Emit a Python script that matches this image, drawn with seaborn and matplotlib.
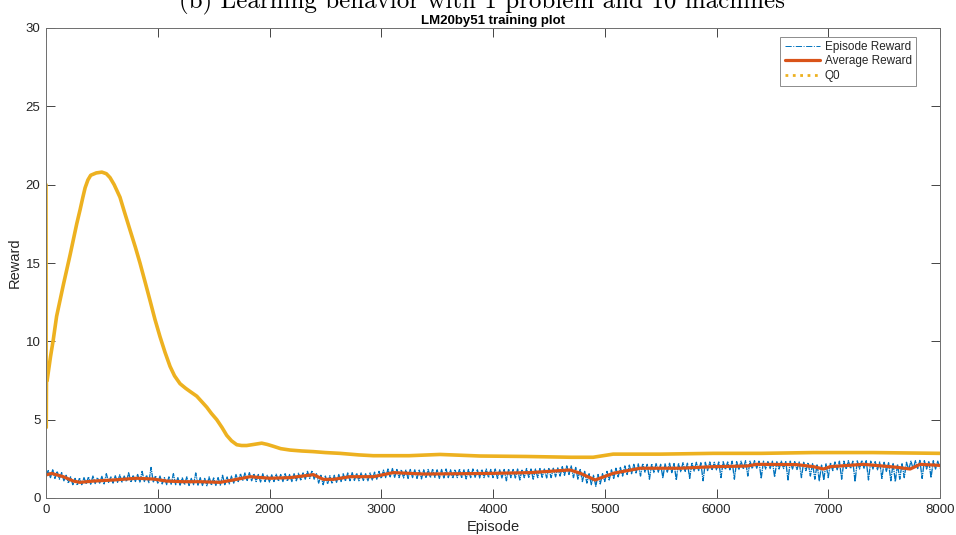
import numpy as np
import pandas as pd
import matplotlib
matplotlib.use("Agg")
import matplotlib.pyplot as plt
from matplotlib.lines import Line2D
import seaborn as sns

# ---- data -------------------------------------------------------------
# per-episode reward, sampled every 20 episodes (0 .. 8000)
episode_step = 20
episode_reward = [
    # 0 - 980
    1.40, 1.75, 1.30, 1.80, 1.25, 1.70, 1.20, 1.62, 1.10, 1.45,
    0.95, 1.35, 0.85, 1.25, 0.82, 1.28, 0.85, 1.30, 0.90, 1.35,
    0.88, 1.40, 0.92, 1.30, 0.95, 1.38, 0.90, 1.55, 1.00, 1.35,
    0.95, 1.42, 1.00, 1.48, 1.02, 1.40, 1.05, 1.62, 1.00, 1.45,
    1.05, 1.50, 1.02, 1.70, 1.05, 1.45, 0.98, 1.95, 1.00, 1.42,
    # 1000 - 1980
    0.95, 1.40, 0.90, 1.30, 0.85, 1.35, 0.88, 1.55, 0.85, 1.30,
    0.82, 1.28, 0.85, 1.35, 0.80, 1.25, 0.85, 1.60, 0.82, 1.30,
    0.80, 1.25, 0.78, 1.35, 0.82, 1.28, 0.80, 1.30, 0.82, 1.45,
    0.85, 1.35, 0.90, 1.40, 0.95, 1.50, 1.05, 1.55, 1.10, 1.60,
    1.12, 1.62, 1.10, 1.55, 1.05, 1.50, 1.02, 1.55, 1.05, 1.45,
    # 2000 - 2980
    1.02, 1.48, 1.05, 1.52, 1.08, 1.50, 1.05, 1.55, 1.08, 1.50,
    1.05, 1.55, 1.10, 1.58, 1.12, 1.60, 1.20, 1.70, 1.25, 1.75,
    1.20, 1.55, 0.95, 1.45, 0.85, 1.40, 0.90, 1.42, 0.92, 1.45,
    1.00, 1.50, 1.05, 1.55, 1.08, 1.60, 1.10, 1.62, 1.12, 1.58,
    1.10, 1.60, 1.12, 1.55, 1.10, 1.60, 1.15, 1.65, 1.20, 1.70,
    # 3000 - 3980
    1.25, 1.78, 1.30, 1.85, 1.35, 1.88, 1.32, 1.82, 1.30, 1.80,
    1.28, 1.78, 1.25, 1.82, 1.30, 1.80, 1.25, 1.78, 1.22, 1.80,
    1.28, 1.82, 1.30, 1.85, 1.32, 1.80, 1.25, 1.82, 1.28, 1.85,
    1.30, 1.80, 1.25, 1.82, 1.30, 1.85, 1.28, 1.80, 1.22, 1.82,
    1.30, 1.85, 1.32, 1.80, 1.28, 1.82, 1.30, 1.85, 1.30, 1.82,
    # 4000 - 4980
    1.30, 1.85, 1.25, 1.80, 1.28, 1.82, 1.10, 1.85, 1.30, 1.82,
    1.28, 1.85, 1.15, 1.82, 1.30, 1.88, 1.32, 1.85, 1.20, 1.85,
    1.30, 1.88, 1.32, 1.85, 1.28, 1.88, 1.30, 1.90, 1.35, 1.92,
    1.40, 2.00, 1.45, 2.05, 1.50, 2.05, 1.30, 1.95, 1.20, 1.85,
    1.05, 1.70, 0.95, 1.55, 0.85, 1.45, 0.75, 1.50, 0.90, 1.55,
    # 5000 - 5980
    1.05, 1.70, 1.15, 1.80, 1.25, 1.90, 1.35, 1.95, 1.40, 2.05,
    1.50, 2.10, 1.55, 2.15, 1.60, 2.18, 1.40, 2.20, 1.65, 2.15,
    1.20, 2.18, 1.62, 2.20, 1.65, 2.15, 1.30, 2.18, 1.65, 2.22,
    1.62, 2.20, 1.15, 2.22, 1.68, 2.25, 1.70, 2.22, 1.25, 2.25,
    1.72, 2.28, 1.75, 2.25, 1.10, 2.28, 1.75, 2.30, 1.78, 2.28,
    # 6000 - 6980
    1.80, 2.30, 1.30, 2.32, 1.82, 2.30, 1.80, 2.35, 1.20, 2.32,
    1.82, 2.35, 1.85, 2.38, 1.40, 2.35, 1.88, 2.38, 1.90, 2.35,
    1.25, 2.35, 1.85, 2.32, 1.88, 2.35, 1.35, 2.32, 1.85, 2.35,
    1.88, 2.32, 1.15, 2.35, 1.85, 2.32, 1.82, 2.30, 1.30, 2.28,
    1.75, 2.25, 1.40, 2.20, 1.20, 2.15, 1.10, 2.10, 1.15, 2.18,
    # 7000 - 8000
    1.30, 2.25, 1.75, 2.30, 1.80, 2.35, 1.20, 2.35, 1.85, 2.38,
    1.88, 2.35, 1.05, 2.38, 1.85, 2.40, 1.90, 2.38, 1.15, 2.35,
    1.85, 2.32, 1.80, 2.30, 1.25, 2.28, 1.70, 2.25, 1.10, 2.20,
    1.05, 2.15, 1.20, 2.20, 1.30, 2.28, 1.80, 2.35, 1.85, 2.38,
    1.88, 2.40, 1.25, 2.38, 1.85, 2.35, 1.30, 2.38, 1.85, 2.35,
    1.90,
]

# running average reward
avg_episode = [0, 50, 155, 245, 305, 424, 603, 812, 960, 1080, 1229, 1378,
               1557, 1676, 1826, 2005, 2184, 2393, 2482, 2571, 2721, 2930,
               3108, 3377, 3700, 3974, 4332, 4690, 4780, 4914, 5078, 5317,
               5675, 5973, 6271, 6360, 6718, 6868, 6957, 7017, 7315, 7614,
               7733, 7822, 8000]
avg_reward = [1.47, 1.57, 1.36, 1.08, 1.00, 1.08, 1.15, 1.26, 1.21, 1.08,
              1.04, 1.04, 1.00, 1.15, 1.36, 1.26, 1.30, 1.49, 1.19, 1.19,
              1.36, 1.36, 1.62, 1.53, 1.55, 1.57, 1.62, 1.79, 1.58, 1.15,
              1.58, 1.90, 1.90, 2.00, 2.04, 2.15, 2.13, 2.00, 1.85, 2.00,
              2.15, 1.96, 1.85, 2.15, 2.08]

# critic estimate of the initial state value
q0_episode = [0, 2, 5, 10, 20, 40, 65, 95, 125, 155, 185, 215, 245, 275,
              305, 330, 350, 375, 400, 450, 500, 540, 573, 610, 662, 700,
              752, 800, 841, 890, 931, 975, 1020, 1065, 1110, 1150, 1199,
              1250, 1289, 1349, 1400, 1438, 1480, 1528, 1575, 1617, 1660,
              1707, 1750, 1796, 1860, 1930, 1980, 2035, 2100, 2184, 2290,
              2393, 2500, 2631, 2800, 2928, 3250, 3526, 3884, 4300, 4700,
              4896, 5075, 5500, 5970, 6400, 6865, 7400, 8000]
q0_value = [20.0, 4.5, 8.5, 7.5, 8.0, 9.0, 10.1, 11.6, 12.6, 13.6, 14.55,
            15.5, 16.5, 17.5, 18.4, 19.2, 19.8, 20.3, 20.6, 20.75, 20.8,
            20.7, 20.45, 20.0, 19.2, 18.3, 17.1, 16.0, 15.0, 13.7, 12.6,
            11.4, 10.3, 9.3, 8.4, 7.8, 7.3, 7.0, 6.8, 6.5, 6.1, 5.8, 5.4,
            5.0, 4.5, 4.0, 3.65, 3.4, 3.35, 3.35, 3.42, 3.5, 3.42, 3.3,
            3.15, 3.06, 3.0, 2.96, 2.9, 2.85, 2.75, 2.7, 2.7, 2.78, 2.68,
            2.65, 2.6, 2.6, 2.8, 2.8, 2.85, 2.85, 2.9, 2.9, 2.85]

x_ticks = [0, 1000, 2000, 3000, 4000, 5000, 6000, 7000, 8000]
y_ticks = [0, 5, 10, 15, 20, 25, 30]

# ---- style ------------------------------------------------------------
sns.set_theme(style="white")
plt.rcParams["font.family"] = ["Liberation Sans Narrow", "Liberation Sans", "DejaVu Sans"]

BLUE = "#0072BD"
ORANGE = "#D95319"
YELLOW = "#EDB120"
AXIS = "#262626"

ep_df = pd.DataFrame({
    "Episode": np.arange(0, 8001, episode_step),
    "Reward": episode_reward,
})
avg_df = pd.DataFrame({"Episode": avg_episode, "Reward": avg_reward})
q0_df = pd.DataFrame({"Episode": q0_episode, "Reward": q0_value})

fig = plt.figure(figsize=(9.56, 5.35), dpi=100)
ax = fig.add_axes([46 / 956, 1 - 498 / 535, 894 / 956, 470 / 535])

sns.lineplot(data=ep_df, x="Episode", y="Reward", ax=ax, color=BLUE,
             linewidth=0.95, linestyle=(0, (5, 0.6, 1, 0.6)),
             estimator=None, sort=False)
sns.lineplot(data=avg_df, x="Episode", y="Reward", ax=ax, color=ORANGE,
             linewidth=2.3, estimator=None, sort=False)
sns.lineplot(data=q0_df, x="Episode", y="Reward", ax=ax, color=YELLOW,
             linewidth=2.6, estimator=None, sort=False)

ax.set_xlim(0, 8000)
ax.set_ylim(0, 30)
ax.set_xticks(x_ticks)
ax.set_yticks(y_ticks)
ax.tick_params(direction="in", length=6.5, width=0.6, color=AXIS,
               labelcolor=AXIS, labelsize=9.5, top=True, right=True,
               bottom=True, left=True, pad=4)
for s in ax.spines.values():
    s.set_color("#6e6e6e")
    s.set_linewidth(0.7)

ax.set_xlabel("Episode", fontsize=10.5, color=AXIS, labelpad=3)
ax.set_ylabel("Reward", fontsize=10.5, color=AXIS)
ax.yaxis.set_label_coords(-24 / 894, 0.5)
ax.set_title("LM20by51 training plot", fontsize=9.5, fontweight="bold",
             color="black", pad=3)

handles = [
    Line2D([], [], color=BLUE, linewidth=0.7, linestyle="-."),
    Line2D([], [], color=ORANGE, linewidth=2.3),
    Line2D([], [], color=YELLOW, linewidth=2.0, linestyle=":"),
]
leg = ax.legend(handles, ["Episode Reward", "Average Reward", "Q0"],
                loc="upper right", bbox_to_anchor=(0.973, 0.981),
                fontsize=8.5, frameon=True, fancybox=False, framealpha=1,
                edgecolor="#8c8c8c", borderpad=0.35, labelspacing=0.2,
                handlelength=3.0, handletextpad=0.4, borderaxespad=0)
leg.get_frame().set_linewidth(0.7)

fig.text(0.504, 1 - 8 / 535, "(b) Learning behavior with 1 problem and 10 machines",
         ha="center", va="baseline", fontsize=18, family="cmr10", color="black")

fig.savefig("out.png", dpi=100)
